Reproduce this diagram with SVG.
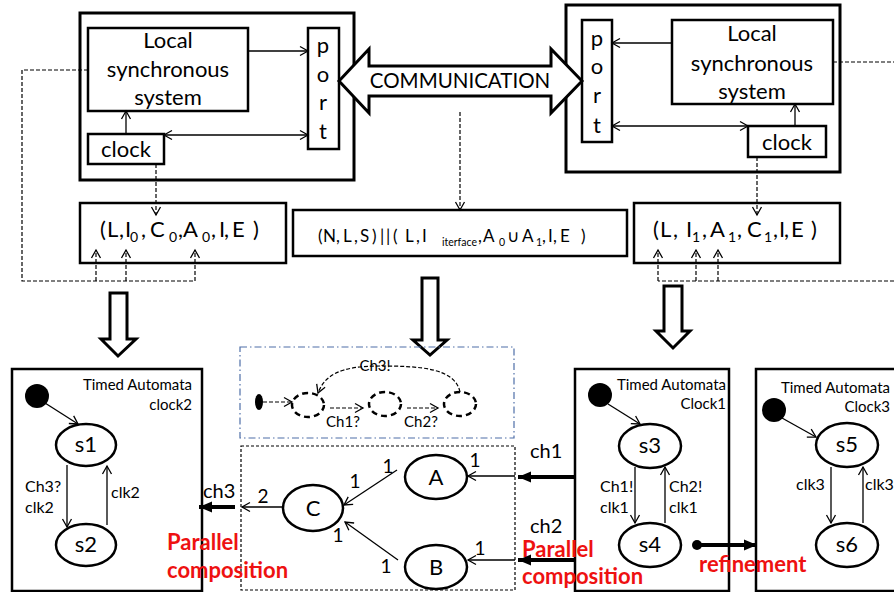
<svg xmlns="http://www.w3.org/2000/svg" width="894" height="592" viewBox="0 0 894 592">
<defs>
<style>
text{font-family:Lato,"Liberation Sans",Arial,sans-serif;fill:#000}
.box{fill:#fff;stroke:#000;stroke-width:2.5}
.obox{fill:#fff;stroke:#000;stroke-width:3}
.ln{fill:none;stroke:#000;stroke-width:1.3}
.dl{fill:none;stroke:#000;stroke-width:1.2;stroke-dasharray:4,2}
.thick{fill:none;stroke:#000;stroke-width:4}
.st{fill:#fff;stroke:#000;stroke-width:2.5}
.dst{fill:#fff;stroke:#000;stroke-width:2.5;stroke-dasharray:6,4}
.red{fill:#ee1111;font-weight:bold;font-size:22px}
.big{font-size:22px}
.sm{font-size:15px}
.lb{font-size:16px}
.num{font-size:19px}
.fm{font-size:22px}
.fs{font-size:14px}
.mm{font-size:17px}
.ms{font-size:10.5px}
.blk{fill:#fff;stroke:#000;stroke-width:3}
</style>
<marker id="oa" markerUnits="userSpaceOnUse" markerWidth="12" markerHeight="12" refX="10" refY="6" orient="auto-start-reverse"><path d="M2,1.5 L10,6 L2,10.5" fill="none" stroke="#000" stroke-width="1.3"/></marker>
<marker id="fa" markerUnits="userSpaceOnUse" markerWidth="14" markerHeight="14" refX="13" refY="7" orient="auto"><path d="M0,1.5 L13,7 L0,12.5 z" fill="#000"/></marker>
</defs>

<!-- top left component -->
<g id="left-component">
<rect class="obox" x="80" y="13" width="274" height="167"/>
<rect class="box" x="88" y="28" width="160" height="83"/>
<text class="big" x="168" y="48" text-anchor="middle">Local</text>
<text class="big" x="168" y="77" text-anchor="middle">synchronous</text>
<text class="big" x="168" y="105" text-anchor="middle">system</text>
<rect class="box" x="308" y="28" width="31" height="121"/>
<text class="big" x="323" y="53" text-anchor="middle">p</text>
<text class="big" x="323" y="82" text-anchor="middle">o</text>
<text class="big" x="323" y="110" text-anchor="middle">r</text>
<text class="big" x="323" y="139" text-anchor="middle">t</text>
<rect class="box" x="88" y="134" width="76" height="30"/>
<text class="big" x="126" y="157" text-anchor="middle">clock</text>
</g>

<!-- top right component -->
<g id="right-component">
<rect class="obox" x="566" y="5" width="274" height="167"/>
<rect class="box" x="672" y="20" width="161" height="84"/>
<text class="big" x="752" y="41" text-anchor="middle">Local</text>
<text class="big" x="752" y="71" text-anchor="middle">synchronous</text>
<text class="big" x="752" y="99" text-anchor="middle">system</text>
<rect class="box" x="582" y="20" width="30" height="122"/>
<text class="big" x="597" y="46" text-anchor="middle">p</text>
<text class="big" x="597" y="74" text-anchor="middle">o</text>
<text class="big" x="597" y="103" text-anchor="middle">r</text>
<text class="big" x="597" y="133" text-anchor="middle">t</text>
<rect class="box" x="748" y="126" width="78" height="31"/>
<text class="big" x="787" y="150" text-anchor="middle">clock</text>
</g>

<!-- communication -->
<g id="communication">
<path class="blk" d="M339,81 L369,49 L369,66 L551,66 L551,49 L582,81 L551,113 L551,96 L369,96 L369,113 Z"/>
<text x="460" y="88" text-anchor="middle" font-size="20.5">COMMUNICATION</text>
</g>

<!-- formula boxes -->
<g id="formula-left">
<rect class="box" x="80" y="203" width="206" height="60"/>
<text class="fm" y="237"><tspan x="100 107 119 125">(L,I</tspan><tspan class="fs" x="130" y="242">0</tspan><tspan x="141 150" y="237">,C</tspan><tspan class="fs" x="169" y="242">0</tspan><tspan x="178 183" y="237">,A</tspan><tspan class="fs" x="202" y="242">0</tspan><tspan x="211 219 224 232 253" y="237">,I,E)</tspan></text>
</g>
<g id="formula-mid">
<rect class="box" x="293" y="210" width="334" height="46"/>
<text class="mm" y="242"><tspan x="318 323 336 343 354 360 372 380 386 393 400 405 416 422">(N,L,S)||( L,I</tspan><tspan class="ms" x="442" y="246">iterface</tspan><tspan x="478 483" y="242">,A</tspan><tspan class="ms" x="499" y="246">0</tspan><tspan x="507 516 522" y="242">∪ A</tspan><tspan class="ms" x="536" y="246">1</tspan><tspan x="542 548 553 560 581" y="242">,I,E)</tspan></text>
</g>
<g id="formula-right">
<rect class="box" x="634" y="203" width="206" height="60"/>
<text class="fm" y="237"><tspan x="653 660 673 686">(L,I</tspan><tspan class="fs" x="692" y="242">1</tspan><tspan x="702 710" y="237">,A</tspan><tspan class="fs" x="728" y="242">1</tspan><tspan x="737 747" y="237">,C</tspan><tspan class="fs" x="764" y="242">1</tspan><tspan x="773 779 784 791 811" y="237">,I,E)</tspan></text>
</g>

<!-- block arrows -->
<g id="block-arrows">
<path class="blk" d="M110,293 L127,293 L127,339 L136,339 L118,356 L101,339 L110,339 Z"/>
<path class="blk" d="M422,278 L438,278 L438,340 L447,340 L430,355 L413,340 L422,340 Z"/>
<path class="blk" d="M664,286 L682,286 L682,331 L690,331 L673,348 L656,331 L664,331 Z"/>
</g>

<!-- timed automata left -->
<g id="ta-clock2">
<rect class="box" x="12" y="369" width="190" height="222"/>
<text class="sm" x="192" y="390" text-anchor="end">Timed Automata</text>
<text class="sm" x="192" y="410" text-anchor="end">clock2</text>
<circle cx="37" cy="396" r="12" fill="#000"/>
<ellipse class="st" cx="86" cy="445" rx="30" ry="21"/>
<text class="big" x="86" y="452" text-anchor="middle">s1</text>
<ellipse class="st" cx="86" cy="545" rx="30" ry="21"/>
<text class="big" x="86" y="552" text-anchor="middle">s2</text>
<text class="lb" x="25" y="492">Ch3?</text>
<text class="lb" x="25" y="513">clk2</text>
<text class="lb" x="111" y="498">clk2</text>
</g>

<!-- timed automata clock1 -->
<g id="ta-clock1">
<rect class="box" x="575" y="369" width="154" height="222"/>
<text class="sm" x="726" y="390" text-anchor="end">Timed Automata</text>
<text class="sm" x="726" y="409" text-anchor="end">Clock1</text>
<circle cx="600" cy="395" r="12" fill="#000"/>
<ellipse class="st" cx="650" cy="446" rx="31" ry="22"/>
<text class="big" x="650" y="453" text-anchor="middle">s3</text>
<ellipse class="st" cx="650" cy="545" rx="31" ry="22"/>
<text class="big" x="650" y="552" text-anchor="middle">s4</text>
<text class="lb" x="600" y="492">Ch1!</text>
<text class="lb" x="600" y="513">clk1</text>
<text class="lb" x="669" y="492">Ch2!</text>
<text class="lb" x="669" y="513">clk1</text>
</g>

<!-- timed automata clock3 -->
<g id="ta-clock3">
<rect class="box" x="756" y="369" width="150" height="222"/>
<text class="sm" x="890" y="393" text-anchor="end">Timed Automata</text>
<text class="sm" x="890" y="412" text-anchor="end">Clock3</text>
<circle cx="774" cy="410" r="12" fill="#000"/>
<ellipse class="st" cx="847" cy="445" rx="31" ry="22"/>
<text class="big" x="847" y="452" text-anchor="middle">s5</text>
<ellipse class="st" cx="847" cy="545" rx="31" ry="22"/>
<text class="big" x="847" y="552" text-anchor="middle">s6</text>
<text class="lb" x="796" y="490">clk3</text>
<text class="lb" x="865" y="490">clk3</text>
</g>

<!-- abstract interface automaton -->
<g id="interface-automaton">
<rect x="240" y="347" width="274" height="91" fill="none" stroke="#4f6fa8" stroke-width="1.2" stroke-dasharray="7,3,1.5,3"/>
<ellipse cx="259" cy="402" rx="4" ry="8" fill="#000"/>
<ellipse class="dst" cx="308" cy="405" rx="16" ry="12"/>
<ellipse class="dst" cx="385" cy="404" rx="16" ry="12"/>
<ellipse class="dst" cx="460" cy="404" rx="16" ry="12"/>
<text class="sm" x="343" y="427" text-anchor="middle">Ch1?</text>
<text class="sm" x="421" y="427" text-anchor="middle">Ch2?</text>
<text class="sm" x="375" y="371" text-anchor="middle">Ch3!</text>
</g>

<!-- composition -->
<g id="composition">
<rect x="241" y="446" width="274" height="144" fill="none" stroke="#000" stroke-width="1.2" stroke-dasharray="3,2"/>
<ellipse class="st" cx="436" cy="477" rx="31" ry="22"/>
<text class="big" x="436" y="485" text-anchor="middle">A</text>
<ellipse class="st" cx="436" cy="567" rx="31" ry="22"/>
<text class="big" x="436" y="575" text-anchor="middle">B</text>
<ellipse class="st" cx="313" cy="508" rx="30" ry="23"/>
<text class="big" x="313" y="516" text-anchor="middle">C</text>
<text class="num" x="388" y="473" text-anchor="middle">1</text>
<text class="num" x="355" y="488" text-anchor="middle">1</text>
<text class="num" x="338" y="542" text-anchor="middle">1</text>
<text class="num" x="386" y="573" text-anchor="middle">1</text>
<text class="num" x="263" y="503" text-anchor="middle">2</text>
<text class="num" x="475" y="467" text-anchor="middle">1</text>
<text class="num" x="480" y="555" text-anchor="middle">1</text>
</g>

<!-- labels -->
<g id="labels">
<text x="203" y="498" font-size="20">ch3</text>
<text x="530" y="458" font-size="20">ch1</text>
<text x="530" y="533" font-size="20">ch2</text>
<text class="red" x="167" y="550">Parallel</text>
<text class="red" x="167" y="578">composition</text>
<text class="red" x="522" y="557">Parallel</text>
<text class="red" x="522" y="584">composition</text>
<text class="red" x="699" y="572">refinement</text>
</g>

<!-- connectors -->
<g id="connectors">
<line class="ln" x1="248" y1="51" x2="308" y2="51" marker-end="url(#oa)"/>
<line class="ln" x1="164" y1="135" x2="308" y2="135" marker-start="url(#oa)" marker-end="url(#oa)"/>
<line class="ln" x1="126" y1="134" x2="126" y2="111" marker-end="url(#oa)"/>
<line class="ln" x1="672" y1="43" x2="612" y2="43" marker-end="url(#oa)"/>
<line class="ln" x1="612" y1="126" x2="748" y2="126" marker-start="url(#oa)" marker-end="url(#oa)"/>
<line class="ln" x1="795" y1="126" x2="795" y2="104" marker-end="url(#oa)"/>
<line class="dl" x1="156" y1="164" x2="156" y2="215" marker-end="url(#oa)"/>
<line class="dl" x1="757" y1="157" x2="757" y2="215" marker-end="url(#oa)"/>
<line class="dl" x1="460" y1="112" x2="460" y2="210" marker-end="url(#oa)"/>
<polyline class="dl" points="88,70 22,70 22,281 195,281"/>
<line class="dl" x1="96" y1="281" x2="96" y2="250" marker-end="url(#oa)"/>
<line class="dl" x1="126" y1="281" x2="126" y2="250" marker-end="url(#oa)"/>
<line class="dl" x1="195" y1="281" x2="195" y2="250" marker-end="url(#oa)"/>
<line class="dl" x1="833" y1="62" x2="894" y2="62"/>
<line class="dl" x1="894" y1="281" x2="658" y2="281"/>
<line class="dl" x1="658" y1="281" x2="658" y2="250" marker-end="url(#oa)"/>
<line class="dl" x1="696" y1="281" x2="696" y2="250" marker-end="url(#oa)"/>
<line class="dl" x1="718" y1="281" x2="718" y2="250" marker-end="url(#oa)"/>
<line class="ln" x1="45" y1="403" x2="78" y2="424" marker-end="url(#oa)"/>
<line class="ln" x1="67" y1="465" x2="67" y2="527" marker-end="url(#oa)"/>
<line class="ln" x1="107" y1="525" x2="107" y2="466" marker-end="url(#oa)"/>
<line class="ln" x1="608" y1="404" x2="640" y2="424" marker-end="url(#oa)"/>
<line class="ln" x1="635" y1="467" x2="635" y2="523" marker-end="url(#oa)"/>
<line class="ln" x1="665" y1="523" x2="665" y2="467" marker-end="url(#oa)"/>
<line class="ln" x1="782" y1="418" x2="816" y2="437" marker-end="url(#oa)"/>
<line class="ln" x1="831" y1="467" x2="831" y2="523" marker-end="url(#oa)"/>
<line class="ln" x1="863" y1="523" x2="863" y2="467" marker-end="url(#oa)"/>
<line class="dl" x1="263" y1="402" x2="292" y2="402" marker-end="url(#oa)"/>
<line class="dl" x1="330" y1="408" x2="363" y2="408" marker-end="url(#oa)"/>
<line class="dl" x1="407" y1="408" x2="438" y2="408" marker-end="url(#oa)"/>
<path class="dl" d="M460,392 C455,368 420,366 380,366 C340,366 325,375 318,393" marker-end="url(#oa)"/>
<line class="ln" x1="397" y1="470" x2="344" y2="505" marker-end="url(#oa)"/>
<line class="ln" x1="398" y1="560" x2="345" y2="522" marker-end="url(#oa)"/>
<line class="ln" x1="283" y1="507" x2="242" y2="507" stroke-width="1.8" marker-end="url(#oa)"/>
<line class="ln" x1="515" y1="476" x2="468" y2="476" stroke-width="2.2" marker-end="url(#oa)"/>
<line class="ln" x1="515" y1="560" x2="468" y2="560" stroke-width="2.2" marker-end="url(#oa)"/>
<line class="thick" x1="235" y1="507" x2="199" y2="507" marker-end="url(#fa)"/>
<line class="thick" x1="575" y1="477" x2="518" y2="477" marker-end="url(#fa)"/>
<line class="thick" x1="575" y1="560" x2="518" y2="560" marker-end="url(#fa)"/>
<circle cx="697" cy="545" r="5" fill="#000"/>
<line class="thick" x1="697" y1="545" x2="757" y2="545" marker-end="url(#fa)"/>
</g>
</svg>
